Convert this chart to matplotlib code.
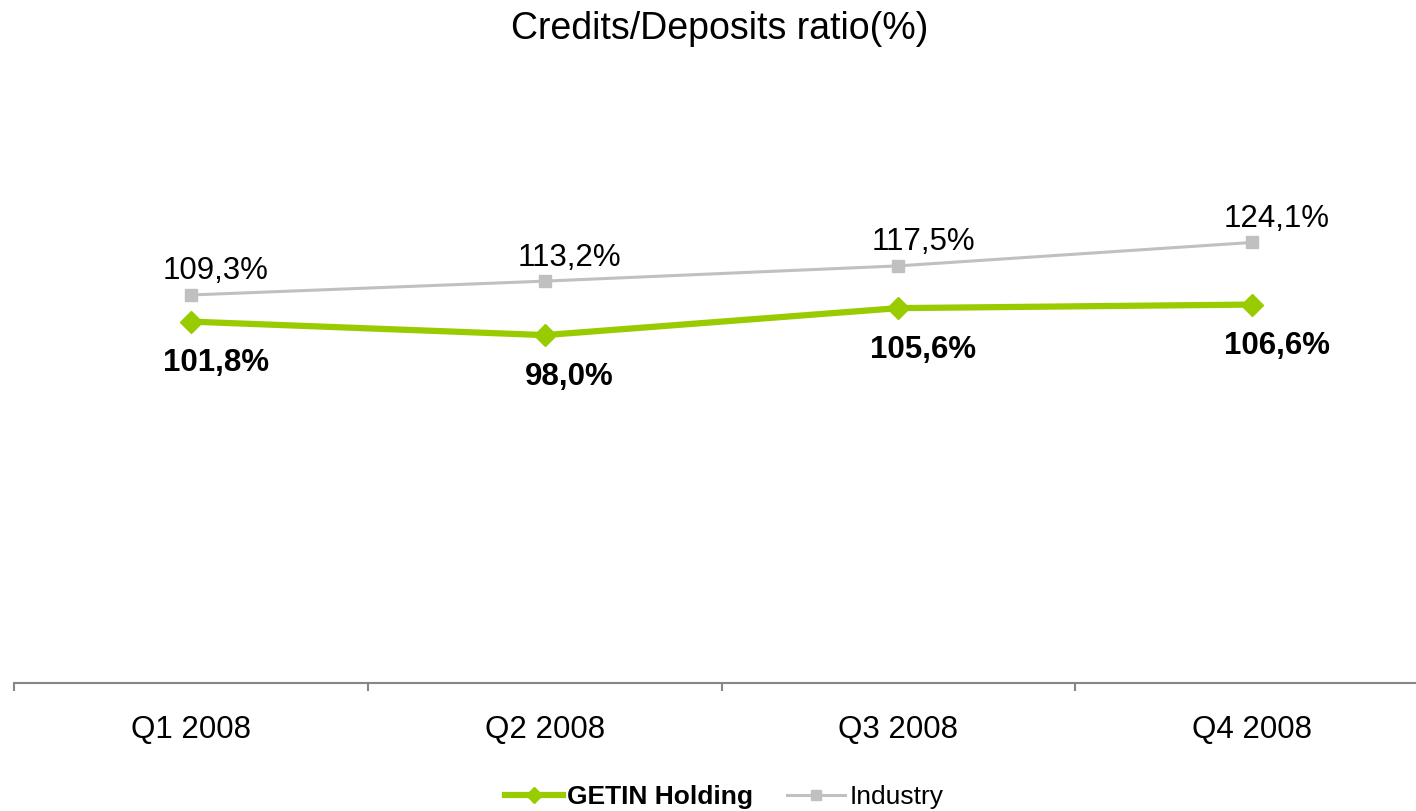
import matplotlib.pyplot as plt
import numpy as np

plt.rcParams['font.family'] = ['Liberation Sans', 'DejaVu Sans']

quarters = ["Q1 2008", "Q2 2008", "Q3 2008", "Q4 2008"]
getin = [101.8, 98.0, 105.6, 106.6]
industry = [109.3, 113.2, 117.5, 124.1]

GREEN = "#99cc00"
GREY = "#c0c0c0"


def fmt(v):
    return ("%.1f%%" % v).replace(".", ",")


W, H = 1416, 811
fig = plt.figure(figsize=(W / 100, H / 100), dpi=100)

# plot area: x axis line at y=683px, category slots 354px wide starting at x=14px
ax_bottom = (H - 683) / H
ax_top = (H - 115) / H
ax = fig.add_axes([14 / W, ax_bottom, (1429 - 14) / W, ax_top - ax_bottom])

x = np.arange(len(quarters))
ax.plot(x, industry, color=GREY, lw=2.2, marker="s", ms=9,
        label="Industry", zorder=2)
ax.plot(x, getin, color=GREEN, lw=4.5, marker="D", ms=11,
        label="GETIN Holding", zorder=3)

for xi, v in zip(x, industry):
    ax.annotate(fmt(v), (xi, v), xytext=(18, 17), textcoords="offset points",
                ha="center", va="center", fontsize=22.5)
for xi, v in zip(x, getin):
    ax.annotate(fmt(v), (xi, v), xytext=(18, -30), textcoords="offset points",
                ha="center", va="center", fontsize=22.5, fontweight="bold")

ax.set_xlim(-0.5, 3.5)
ax.set_ylim(0, 160)
ax.set_yticks([])
for s in ["top", "right", "left"]:
    ax.spines[s].set_visible(False)
ax.spines["bottom"].set_color("#868686")
ax.spines["bottom"].set_linewidth(1.5)

ax.set_xticks(x)
ax.set_xticklabels(quarters, fontsize=22.5)
ax.tick_params(axis="x", which="major", length=0, pad=23)
ax.set_xticks(np.arange(len(quarters)) - 0.5, minor=True)
ax.tick_params(axis="x", which="minor", length=6, width=1.5, color="#868686",
               direction="out")

fig.text(720 / W, 1 - 29 / H, "Credits/Deposits ratio(%)", ha="center",
         va="center", fontsize=27)

handles, labels = ax.get_legend_handles_labels()
leg = fig.legend(handles[::-1], labels[::-1], loc="center",
                 bbox_to_anchor=(724 / W, 1 - 797 / H), ncol=2, frameon=False,
                 fontsize=19, handlelength=2.2, markerscale=0.75,
                 columnspacing=1.3, handletextpad=0.15)
leg.get_texts()[0].set_fontweight("bold")

fig.savefig("out.png", dpi=100)
